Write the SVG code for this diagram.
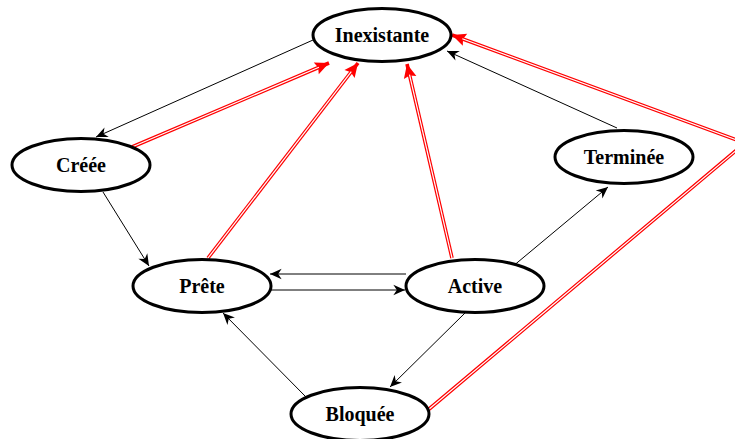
<svg xmlns="http://www.w3.org/2000/svg" width="735" height="439" viewBox="0 0 735 439">
<defs>
<style>
.node ellipse{fill:#fff;stroke:#000;stroke-width:3}
.node text{font-family:"Liberation Serif","Times New Roman",serif;font-weight:bold;font-size:20px;text-anchor:middle;fill:#000}
.blk{stroke:#000;stroke-width:1;fill:none;marker-end:url(#ab)}
.red{stroke:#f00;stroke-width:3.6;fill:none;stroke-linejoin:miter}
.redc{stroke:#fff;stroke-width:1.2;fill:none;stroke-linejoin:miter}
</style>
<marker id="ab" markerUnits="userSpaceOnUse" markerWidth="14" markerHeight="14" viewBox="-11 -6 12 12" refX="0" refY="0" orient="auto">
<path d="M0,0 L-10,-4.5 L-7,0 L-10,4.5 Z" fill="#000"/>
</marker>
<marker id="ar" markerUnits="userSpaceOnUse" markerWidth="16" markerHeight="16" viewBox="-14 -7 15 14" refX="0" refY="0" orient="auto">
<path d="M0,0 L-13,-6 L-11,0 L-13,6 Z" fill="#f00"/>
</marker>
</defs>
<g id="connectors">
<path class="blk" d="M313,40 L96,137"/>
<path class="blk" d="M103,192 L149,266"/>
<path class="blk" d="M406,274 L270,274"/>
<path class="blk" d="M270,290 L405,290"/>
<path class="blk" d="M512,267 L608,187"/>
<path class="blk" d="M617,128 L447,51"/>
<path class="blk" d="M465,313 L390,387"/>
<path class="blk" d="M306,397 L223,313"/>
<path class="red" marker-end="url(#ar)" d="M132,147 L329,63"/>
<path class="redc" d="M132,147 L318.9,67.3"/>
<path class="red" marker-end="url(#ar)" d="M208,258 L358,63"/>
<path class="redc" d="M208,258 L351.3,71.7"/>
<path class="red" marker-end="url(#ar)" d="M452,258 L407,64"/>
<path class="redc" d="M452,258 L409.5,74.7"/>
<path class="red" marker-end="url(#ar)" d="M428,410 L745,143 L452,35"/>
<path class="redc" d="M428,410 L745,143 L462.3,38.8"/>
</g>
<g id="inexistante" class="node"><ellipse cx="382" cy="35" rx="69" ry="26.5"/><text x="382" y="42">Inexistante</text></g>
<g id="creee" class="node"><ellipse cx="81" cy="165" rx="69" ry="26.5"/><text x="81" y="172">Créée</text></g>
<g id="terminee" class="node"><ellipse cx="624" cy="157" rx="69" ry="26.5"/><text x="624" y="164">Terminée</text></g>
<g id="prete" class="node"><ellipse cx="202" cy="286" rx="69" ry="26.5"/><text x="202" y="293">Prête</text></g>
<g id="active" class="node"><ellipse cx="475" cy="286" rx="69" ry="26.5"/><text x="475" y="293">Active</text></g>
<g id="bloquee" class="node"><ellipse cx="360" cy="414" rx="69" ry="26.5"/><text x="360" y="421">Bloquée</text></g>
</svg>
